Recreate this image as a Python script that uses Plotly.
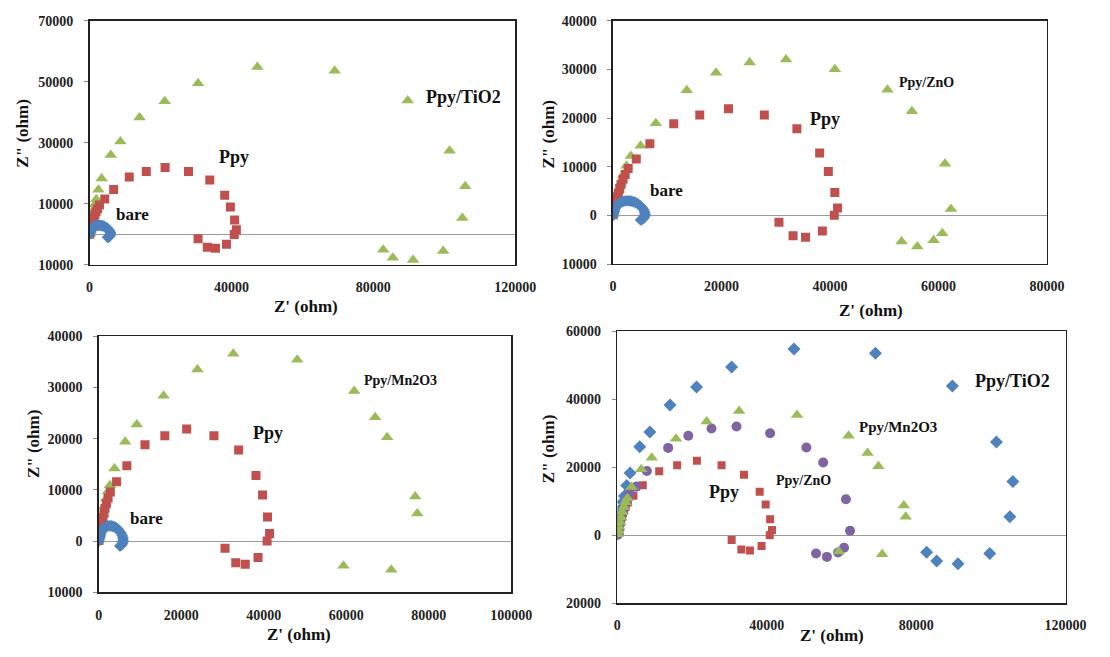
import plotly.graph_objects as go

W, H = 1110, 657

# ---------------- data (ohm) ----------------
bare_x = [0, 100, 200, 350, 500, 700, 950, 1200, 1500, 1850, 2200, 2600, 3000, 3400, 3800, 4200, 4600, 5000, 5350, 5650, 5850, 5900, 5800, 5600, 5350, 5100]
bare_y = [0, 400, 800, 1200, 1600, 1950, 2250, 2500, 2700, 2850, 2950, 3000, 2980, 2900, 2780, 2600, 2350, 2000, 1600, 1150, 650, 150, -300, -650, -850, -950]

ppy_x = [50, 150, 300, 450, 600, 800, 1000, 1250, 1500, 1850, 2250, 2800, 4300, 6800, 11200, 16000, 21300, 27900, 33900, 38100, 39700, 40900, 41400, 40800, 38600, 35500, 33200, 30600]
ppy_y = [100, 600, 1300, 2000, 2800, 3700, 4600, 5500, 6400, 7400, 8400, 9600, 11600, 14700, 18800, 20600, 21900, 20600, 17800, 12800, 9000, 4700, 1500, 0, -3200, -4500, -4200, -1400]

tio2_x = [100, 250, 450, 650, 900, 1150, 1450, 1900, 2500, 3400, 6000, 8700, 14100, 21200, 30600, 47300, 69100, 89700, 101500, 105900, 105100, 99700, 91200, 85500, 82800]
tio2_y = [300, 1500, 3000, 4500, 6200, 8000, 9800, 11500, 14600, 18300, 26000, 30400, 38300, 43600, 49500, 54800, 53600, 43900, 27400, 15800, 5400, -5400, -8400, -7600, -5000]

zno_x = [100, 250, 450, 700, 1000, 1400, 1900, 2500, 3300, 5100, 7900, 13600, 19000, 25200, 31900, 40900, 50600, 55100, 61200, 62300, 60700, 59100, 56100, 53200]
zno_y = [300, 1200, 2300, 3600, 5000, 6600, 8300, 10200, 12200, 14300, 18900, 25700, 29300, 31400, 32000, 30000, 25800, 21400, 10600, 1300, -3700, -5100, -6400, -5400]

mn_x = [100, 250, 450, 700, 1000, 1350, 1750, 2200, 2700, 3800, 6400, 9200, 15700, 23900, 32600, 48100, 61900, 67000, 69900, 76700, 77200, 70900, 59300]
mn_y = [300, 1300, 2500, 3800, 5200, 6800, 8300, 9700, 10900, 14200, 19400, 22800, 28400, 33500, 36600, 35400, 29300, 24200, 20300, 8700, 5400, -5600, -4800]

# tick values / labels (the minus signs are lost in the original figure)
p1_xticks = [0, 40000, 80000, 120000]
p1_yticks = [-10000, 10000, 30000, 50000, 70000]
p1_ylabels = ["10000", "10000", "30000", "50000", "70000"]

p2_xticks = [0, 20000, 40000, 60000, 80000]
p2_yticks = [-10000, 0, 10000, 20000, 30000, 40000]
p2_ylabels = ["10000", "0", "10000", "20000", "30000", "40000"]

p3_xticks = [0, 20000, 40000, 60000, 80000, 100000]
p3_yticks = [-10000, 0, 10000, 20000, 30000, 40000]
p3_ylabels = ["10000", "0", "10000", "20000", "30000", "40000"]

p4_xticks = [0, 40000, 80000, 120000]
p4_yticks = [-20000, 0, 20000, 40000, 60000]
p4_ylabels = ["20000", "0", "20000", "40000", "60000"]

BLUE, RED, GREEN, PURPLE = "#4F81BD", "#C0504D", "#9BBB59", "#8064A2"
SERIF = "Liberation Serif"

fig = go.Figure()

def add(x, y, xa, ya, symbol, color, size):
    fig.add_trace(go.Scatter(x=x, y=y, mode="markers", xaxis=xa, yaxis=ya,
                             marker=dict(symbol=symbol, color=color, size=size, line=dict(width=0)),
                             showlegend=False, hoverinfo="skip"))

# panel 1
add(tio2_x, tio2_y, "x", "y", "triangle-up", GREEN, 11)
add(ppy_x, ppy_y, "x", "y", "square", RED, 9)
add(bare_x, bare_y, "x", "y", "diamond", BLUE, 9)
# panel 2
add(zno_x, zno_y, "x2", "y2", "triangle-up", GREEN, 11)
add(ppy_x, ppy_y, "x2", "y2", "square", RED, 9)
add(bare_x, bare_y, "x2", "y2", "diamond", BLUE, 9)
# panel 3
add(mn_x, mn_y, "x3", "y3", "triangle-up", GREEN, 11)
add(ppy_x, ppy_y, "x3", "y3", "square", RED, 9)
add(bare_x, bare_y, "x3", "y3", "diamond", BLUE, 9)
# panel 4
add(tio2_x, tio2_y, "x4", "y4", "diamond", BLUE, 10)
add(ppy_x, ppy_y, "x4", "y4", "square", RED, 8)
add(zno_x, zno_y, "x4", "y4", "circle", PURPLE, 10)
add(mn_x, mn_y, "x4", "y4", "triangle-up", GREEN, 11)

# panel boxes in pixels: (left, right, top, bottom)
boxes = [(87.5, 523, 14, 264), (623, 1067, 14, 263), (97, 519, 337, 599), (627.5, 1086, 332, 610)]
xranges = [[0, 120000], [0, 80000], [0, 100000], [0, 120000]]
yranges = [[-10000, 70000], [-10000, 40000], [-10000, 40000], [-20000, 60000]]
xticks = [p1_xticks, p2_xticks, p3_xticks, p4_xticks]
yticks = [p1_yticks, p2_yticks, p3_yticks, p4_yticks]
ylabels = [p1_ylabels, p2_ylabels, p3_ylabels, p4_ylabels]

tickfont = dict(family=SERIF, size=14, color="#222", weight="bold")
for i, (l, r, t, b) in enumerate(boxes):
    sx = "" if i == 0 else str(i + 1)
    fig.layout["xaxis" + sx] = dict(
        domain=[l / W, r / W], range=xranges[i], anchor="y" + sx,
        tickvals=xticks[i], ticktext=[str(v) for v in xticks[i]],
        showgrid=False, zeroline=False, showline=True, mirror=True,
        linecolor="#222", linewidth=1.5, ticks="", tickfont=tickfont,
        ticklabelstandoff=9, fixedrange=True)
    fig.layout["yaxis" + sx] = dict(
        domain=[1 - b / H, 1 - t / H], range=yranges[i], anchor="x" + sx,
        tickvals=yticks[i], ticktext=ylabels[i],
        showgrid=False, zeroline=True, zerolinecolor="#9a9a9a", zerolinewidth=1,
        showline=True, mirror=True, linecolor="#222", linewidth=1.5,
        ticks="outside", ticklen=4, tickcolor="#888", tickfont=tickfont,
        ticklabelstandoff=8, fixedrange=True)

ann = []
def label(text, x, y, xa, ya, size):
    ann.append(dict(text=text, x=x, y=y, xref=xa, yref=ya, xanchor="left", yanchor="middle",
                    showarrow=False, font=dict(family=SERIF, size=size, color="#111", weight="bold")))

label("Ppy/TiO2", 94400, 44900, "x", "y", 18)
label("Ppy", 35800, 25200, "x", "y", 18)
label("bare", 6800, 6500, "x", "y", 17)

label("Ppy/ZnO", 52300, 27200, "x2", "y2", 14)
label("Ppy", 36000, 19700, "x2", "y2", 18)
label("bare", 6500, 5100, "x2", "y2", 17)

label("Ppy/Mn2O3", 63900, 31400, "x3", "y3", 14)
label("Ppy", 36900, 21200, "x3", "y3", 18)
label("bare", 7100, 4500, "x3", "y3", 17)

label("Ppy/TiO2", 95100, 45400, "x4", "y4", 18)
label("Ppy/Mn2O3", 64200, 31900, "x4", "y4", 15)
label("Ppy/ZnO", 42000, 16100, "x4", "y4", 14)
label("Ppy", 24100, 12700, "x4", "y4", 18)

def title(text, px, py, angle=0):
    ann.append(dict(text=text, x=px / W, y=1 - py / H, xref="paper", yref="paper",
                    xanchor="center", yanchor="middle", showarrow=False, textangle=angle,
                    font=dict(family=SERIF, size=17, color="#111", weight="bold")))

title("Z' (ohm)", 309, 307)
title("Z' (ohm)", 887, 311)
title("Z' (ohm)", 302, 642)
title("Z' (ohm)", 847, 643)
title('Z" (ohm)', 18, 130, -90)
title('Z" (ohm)', 557, 130, -90)
title('Z" (ohm)', 30, 447, -90)
title('Z" (ohm)', 557, 452, -90)

fig.update_layout(width=W, height=H, margin=dict(l=0, r=0, t=0, b=0),
                  paper_bgcolor="white", plot_bgcolor="white", annotations=ann,
                  showlegend=False, hovermode=False)

fig.write_html("out.html", config={"displayModeBar": False, "staticPlot": True},
               post_script="document.body.style.margin='0';document.body.style.overflow='hidden';")
